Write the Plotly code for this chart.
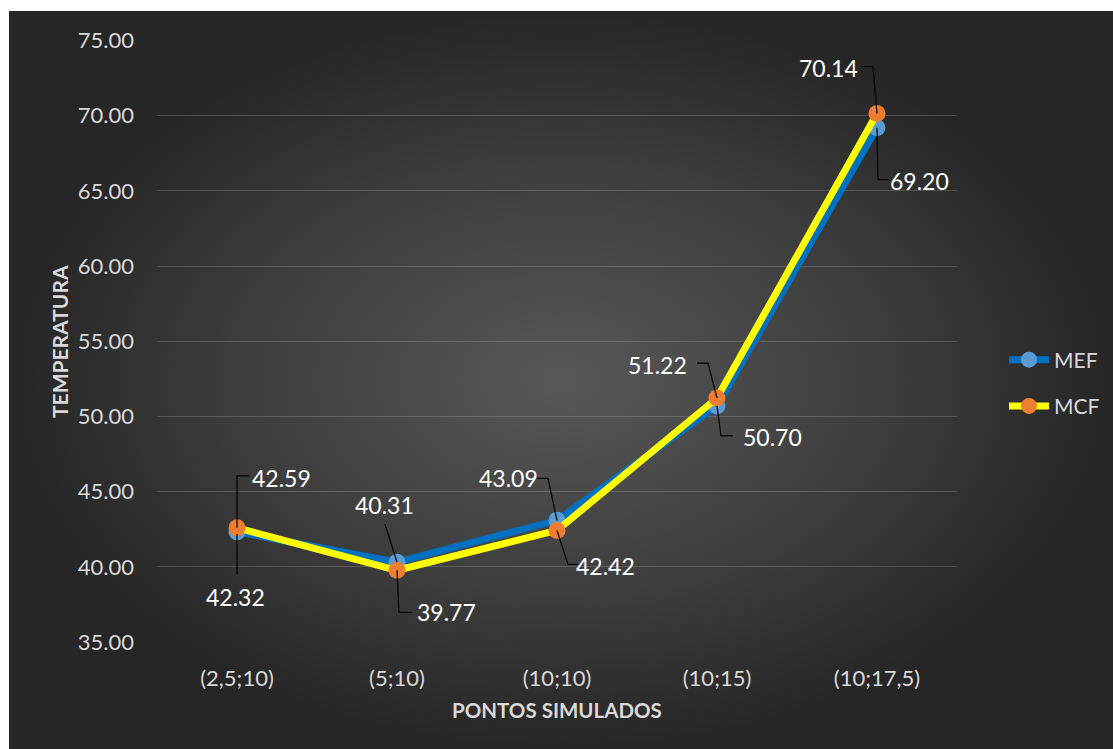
import plotly.graph_objects as go

# ---- data ----
categories = ["(2,5;10)", "(5;10)", "(10;10)", "(10;15)", "(10;17,5)"]
mef = [42.32, 40.31, 43.09, 50.70, 69.20]
mcf = [42.59, 39.77, 42.42, 51.22, 70.14]
y_ticks = [35, 40, 45, 50, 55, 60, 65, 70, 75]

W, H = 1113, 749
# plot area in pixels
PL, PR, PT, PB = 157, 957, 40.5, 642
YMIN, YMAX = 35, 75
PX_PER_CAT = (PR - PL) / len(categories)
PX_PER_Y = (PB - PT) / (YMAX - YMIN)

FONT = "Lato, Open Sans, sans-serif"
TXT = "#D9D9D9"

fig = go.Figure()

# background gradient (full page, on xy axes)
fig.add_trace(go.Scatter(
    x=[9, W, W, 9, 9], y=[11, 11, H, H, 11], xaxis="x", yaxis="y",
    mode="lines", line=dict(width=0), fill="toself",
    fillgradient=dict(type="radial",
                      colorscale=[[0, "rgb(88,88,88)"], [0.6, "rgb(60,60,60)"], [1, "rgb(38,38,38)"]]),
    hoverinfo="skip", showlegend=False))

# data series
fig.add_trace(go.Scatter(
    x=categories, y=mef, name="MEF", xaxis="x2", yaxis="y2", mode="lines+markers",
    legendgroup="mef",
    line=dict(color="#0070C0", width=7), marker=dict(color="#5B9BD5", size=17)))
fig.add_trace(go.Scatter(
    x=categories, y=mcf, name="MCF", xaxis="x2", yaxis="y2", mode="lines+markers",
    legendgroup="mcf",
    line=dict(color="#FFFF00", width=7), marker=dict(color="#ED7D31", size=17)))


def dx(px):
    return px / PX_PER_CAT


def dy(px):
    return px / PX_PER_Y


label_specs = [
    # (values, idx, label dx, label dy, leader points as (dx, dy) px offsets from point, dy positive = up)
    (mcf, 0, 44, 50, [(0, 0), (0, 52), (12, 52)]),
    (mef, 0, -2, -65, [(0, -2), (0, -42)]),
    (mef, 1, -13, 57, [(0, 0), (-12, 38)]),
    (mcf, 1, 49, -42, [(0, 0), (2, -42), (15, -42)]),
    (mef, 2, -49, 42, [(0, 0), (-9, 42), (-20, 42)]),
    (mcf, 2, 48, -36, [(0, 0), (11, -34), (21, -34)]),
    (mcf, 3, -60, 33, [(0, 0), (-9, 35), (-20, 35)]),
    (mef, 3, 55, -31, [(0, 0), (4, -30), (16, -30)]),
    (mcf, 4, -49, 46, [(0, 0), (-4, 47), (-15, 47)]),
    (mef, 4, 42, -53, [(0, 0), (1, -52), (13, -52)]),
]

shapes = []
annotations = []
for vals, i, ldx, ldy, path in label_specs:
    v = vals[i]
    annotations.append(dict(
        x=i, y=v, xref="x2", yref="y2", text=f"{v:.2f}", showarrow=False,
        xshift=ldx, yshift=ldy, font=dict(family=FONT, size=23, color="#FFFFFF")))
    pts = [(i + dx(a), v + dy(b)) for a, b in path]
    d = "M " + " L ".join(f"{px},{py}" for px, py in pts)
    shapes.append(dict(type="path", path=d, xref="x2", yref="y2",
                       line=dict(color="#000000", width=1.2), layer="above"))

# axis titles
annotations.append(dict(text="<b>TEMPERATURA</b>", x=60 / W, y=1 - 342 / H, xref="paper", yref="paper",
                        xanchor="center", yanchor="middle",
                        showarrow=False, textangle=-90, font=dict(family=FONT, size=21, color=TXT)))
annotations.append(dict(text="<b>PONTOS SIMULADOS</b>", x=557 / W, y=1 - 710 / H, xref="paper", yref="paper",
                        xanchor="center", yanchor="middle",
                        showarrow=False, font=dict(family=FONT, size=20.5, color=TXT)))

fig.update_layout(
    width=W, height=H,
    margin=dict(l=0, r=0, t=0, b=0, pad=0, autoexpand=False),
    paper_bgcolor="white", plot_bgcolor="rgba(0,0,0,0)",
    xaxis=dict(domain=[0, 1], range=[0, W], visible=False, fixedrange=True, automargin=False),
    yaxis=dict(domain=[0, 1], range=[H, 0], visible=False, fixedrange=True, automargin=False),
    xaxis2=dict(domain=[PL / W, PR / W], anchor="y2", type="category",
                range=[-0.5, len(categories) - 0.5], automargin=False,
                showgrid=False, zeroline=False, showline=False, ticks="",
                tickfont=dict(family=FONT, size=22, color=TXT), ticklabelstandoff=21),
    yaxis2=dict(domain=[1 - PB / H, 1 - PT / H], anchor="x2", range=[YMIN, YMAX],
                tickvals=y_ticks, ticktext=[f"{t:.2f}" for t in y_ticks], automargin=False,
                showgrid=True, gridcolor="rgba(255,255,255,0.16)", gridwidth=1.3,
                zeroline=False, showline=False, ticks="",
                tickfont=dict(family=FONT, size=22, color=TXT), ticklabelstandoff=22),
    legend=dict(x=1004 / W, y=1 - 383 / H, xanchor="left", yanchor="middle",
                bgcolor="rgba(0,0,0,0)", font=dict(family=FONT, size=21, color=TXT),
                tracegroupgap=16, itemwidth=40),
    shapes=shapes,
    annotations=annotations,
    showlegend=True,
)

fig.write_html("out.html")
